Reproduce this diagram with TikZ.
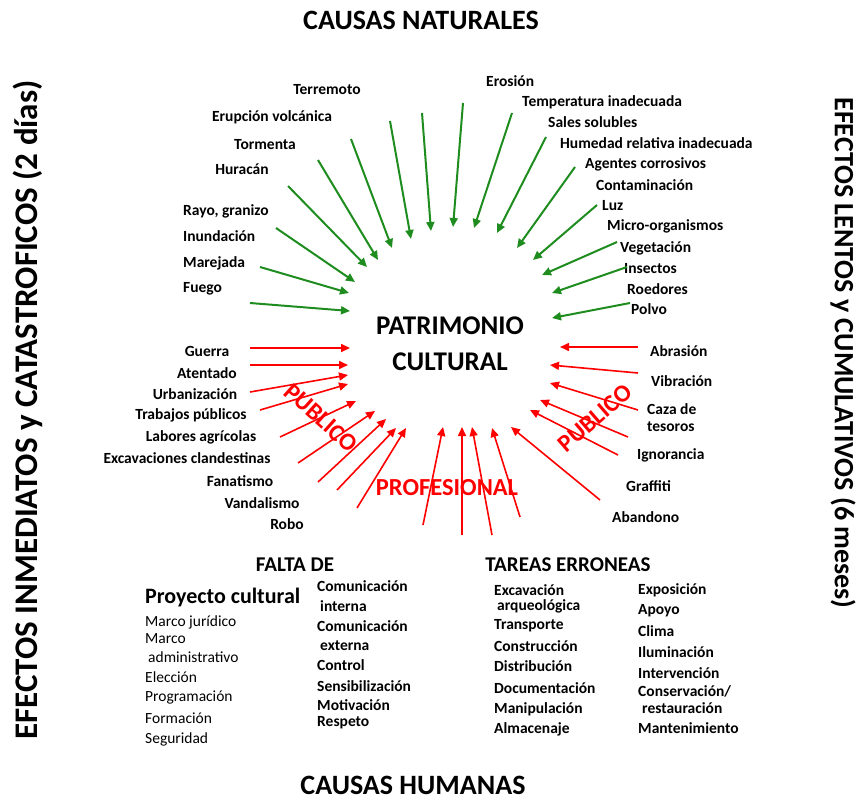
\documentclass[tikz,border=0pt]{standalone}
\usepackage{fontspec}
\setmainfont{Carlito}
\usetikzlibrary{positioning,arrows.meta}
\definecolor{verdeflecha}{RGB}{30,140,30}
\definecolor{rojoflecha}{RGB}{255,0,0}

\begin{document}
\begin{tikzpicture}[x=1pt,y=-1pt,
  etiq/.style={font=\fontsize{15.5}{17}\selectfont\bfseries,inner sep=0pt},
  lista/.style={font=\fontsize{15.5}{17}\selectfont\bfseries,inner sep=0pt,anchor=west},
  listafina/.style={font=\fontsize{15.5}{17}\selectfont,inner sep=0pt,anchor=west},
  titulo/.style={font=\fontsize{28}{32}\selectfont\bfseries,inner sep=0pt},
  subtit/.style={font=\fontsize{21}{24}\selectfont\bfseries,inner sep=0pt},
  zona/.style={font=\fontsize{24.5}{28}\selectfont\bfseries,text=rojoflecha,inner sep=0pt},
  verde/.style={draw=verdeflecha,line width=2pt,-{Triangle[length=9pt,width=8pt]}},
  rojo/.style={draw=rojoflecha,line width=1.6pt,-{Triangle[length=9pt,width=8pt]}}]
\useasboundingbox (0,0) rectangle (858,800);

\node[titulo] (nat) at (421,20) {CAUSAS NATURALES};
\node[titulo] (hum) at (413,785) {CAUSAS HUMANAS};
\node[font=\fontsize{33}{36}\selectfont\bfseries,inner sep=0pt,rotate=90] (inm) at (28,410) {EFECTOS INMEDIATOS y CATASTROFICOS (2 días)};
\node[font=\fontsize{28}{32}\selectfont\bfseries,inner sep=0pt,rotate=-90] (len) at (843,353) {EFECTOS LENTOS y CUMULATIVOS (6 meses)};
\node[font=\fontsize{27}{36}\selectfont\bfseries,align=center,inner sep=0pt] (pat) at (450,344) {PATRIMONIO\\CULTURAL};

\node[etiq] (terr) at (327,90) {Terremoto};
\node[etiq] (erup) at (272,117) {Erupción volcánica};
\node[etiq] (torm) at (265,145) {Tormenta};
\node[etiq] (hura) at (242,169) {Huracán};
\foreach \txt/\yy [count=\i] in {{Rayo, granizo}/211,Inundación/236,Marejada/263,Fuego/289}
  \node[lista] (nl\i) at (183,\yy) {\txt};
\foreach \txt/\xx/\yy [count=\i] in {Erosión/486/81,Temperatura inadecuada/522/102,Sales solubles/548/122,
  Humedad relativa inadecuada/560/143,Agentes corrosivos/585/164,Contaminación/596/185,Luz/602/206,
  Micro-organismos/607/226,Vegetación/620/248,Insectos/624/269,Roedores/627/289,Polvo/631/309}
  \node[lista] (nr\i) at (\xx,\yy) {\txt};

\foreach \txt/\xx/\yy [count=\i] in {Guerra/207/351,Atentado/207/373,Urbanización/195/394,
  Trabajos públicos/191/415,Labores agrícolas/201/437,Excavaciones clandestinas/187/458,
  Fanatismo/240/481,Vandalismo/262/503,Robo/287/524}
  \node[etiq] (hl\i) at (\xx,\yy) {\txt};
\foreach \txt/\xx/\yy [count=\i] in {Abrasión/650/351,Vibración/651/381,Ignorancia/637/455,
  Graffiti/626/486,Abandono/612/517}
  \node[lista] (hr\i) at (\xx,\yy) {\txt};
\node[lista,align=left] (caza) at (647,418) {Caza de\\tesoros};

\node[zona,rotate=-42] (pubi) at (321,418) {PUBLICO};
\node[zona,rotate=41] (pubd) at (595,418) {PUBLICO};
\node[zona] (prof) at (447,488) {PROFESIONAL};

\foreach \xa/\ya/\xb/\yb [count=\i] in {250/303/350/311,260/267/349/293,276/228/355/282,288/186/367/267,
  318/160/378/260,351/139/392/248,390/121/411/239,422/113/431/231,463/103/453/227,512/113/474/228,
  546/137/497/233,575/167/517/248,597/205/533/260,617/242/542/275,627/267/552/293,630/303/552/318}
{
  \coordinate (vt\i) at (\xa,\ya);
  \coordinate (vp\i) at (\xb,\yb);
  \draw[verde] (vt\i) -- (vp\i);
}
\foreach \xa/\ya/\xb/\yb [count=\i] in {250/348/350/348,250/365/348/365,250/392/348/375,260/410/348/384,
  280/437/356/401,298/463/375/411,318/482/386/419,337/490/396/428,357/508/406/428,
  423/525/443/427,462/535/462/427,492/535/472/427,520/517/492/428,
  600/500/511/427,618/455/530/410,628/437/540/400,638/410/550/383,638/373/550/365,638/347/560/347}
{
  \coordinate (rt\i) at (\xa,\ya);
  \coordinate (rp\i) at (\xb,\yb);
  \draw[rojo] (rt\i) -- (rp\i);
}

\node[subtit] (falta) at (295,565) {FALTA DE};
\node[font=\fontsize{22}{26}\selectfont\bfseries,inner sep=0pt,anchor=west] (proy) at (145,598) {Proyecto cultural};
\foreach \txt/\xx/\yy [count=\i] in {Marco jurídico/145/622,Marco/145/639,administrativo/148/657,
  Elección/145/677,Programación/145/697,Formación/145/718,Seguridad/145/739}
  \node[listafina] (pc\i) at (\xx,\yy) {\txt};
\foreach \txt/\xx/\yy [count=\i] in {Comunicación/317/586,interna/320/606,Comunicación/317/626,
  externa/320/646,Control/317/665,Sensibilización/317/686,Motivación/317/705,Respeto/317/723}
  \node[lista] (fc\i) at (\xx,\yy) {\txt};

\node[subtit] (tareas) at (568,565) {TAREAS ERRONEAS};
\foreach \txt/\xx/\yy [count=\i] in {Excavación/494/590,arqueológica/497/606,Transporte/494/626,
  Construcción/494/646,Distribución/494/666,Documentación/494/688,Manipulación/494/709,Almacenaje/494/729}
  \node[lista] (ta\i) at (\xx,\yy) {\txt};
\foreach \txt/\xx/\yy [count=\i] in {Exposición/638/590,Apoyo/638/611,Clima/638/631,Iluminación/638/652,
  Intervención/638/673,Conservación\slash/638/691,restauración/642/708,Mantenimiento/638/728}
  \node[lista] (tb\i) at (\xx,\yy) {\txt};
\end{tikzpicture}
\end{document}
